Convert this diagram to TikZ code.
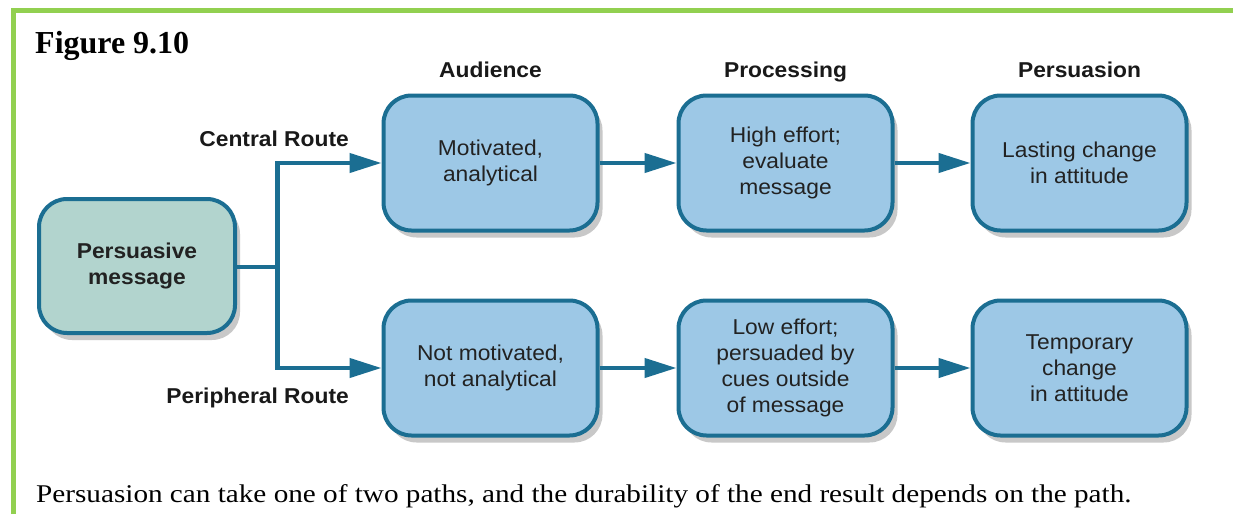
\documentclass[tikz,border=0pt]{standalone}
\usepackage{fontspec}
\setmainfont{Liberation Serif}
\newfontfamily\arialf[FakeStretch=1.06]{Liberation Sans}
\newfontfamily\capf[FakeStretch=1.145]{Liberation Serif}
\usetikzlibrary{arrows.meta,shadows,calc}
\definecolor{frameg}{HTML}{92D050}
\definecolor{edgeb}{HTML}{1B6E92}
\definecolor{fillb}{HTML}{9DC8E6}
\definecolor{fillg}{HTML}{B2D4CE}
\definecolor{txt}{HTML}{222222}
\tikzset{
  box/.style={draw=edgeb, line width=4pt, fill=fillb, rounded corners=28pt,
    minimum width=214pt, minimum height=135pt, align=center, text=txt,
    font=\arialf\fontsize{21.5}{26}\selectfont, inner sep=0pt,
    drop shadow={shadow xshift=5pt, shadow yshift=-7pt, opacity=0.3, fill=black!70}},
  srcbox/.style={box, fill=fillg, minimum width=196pt, minimum height=134pt,
    font=\arialf\bfseries\fontsize{21.5}{26}\selectfont},
  hdr/.style={font=\arialf\bfseries\fontsize{21.5}{26}\selectfont, text=black!90, inner sep=0pt},
  conn/.style={draw=edgeb, line width=4.3pt},
  arr/.style={conn, -{Triangle[length=32pt,width=19pt]}},
}
\begin{document}
\begin{tikzpicture}[x=1pt,y=-1pt]
\useasboundingbox (0,0) rectangle (1233,514);
\fill[white] (0,0) rectangle (1233,514);
\draw[frameg, line width=5pt] (13.5,514) -- (13.5,10) -- (1233,10);

\node[anchor=base west, inner sep=0pt, font=\bfseries\fontsize{32}{36}\selectfont] (fig) at (35,53) {Figure 9.10};

\node[srcbox] (msg) at (137,266) {Persuasive\\message};

\node[box] (aud1) at (490.5,163) {Motivated,\\analytical};
\node[box] (pro1) at (785.5,163) {High effort;\\evaluate\\message};
\node[box] (per1) at (1079.5,163) {Lasting change\\in attitude};

\node[box] (aud2) at (490.5,368) {Not motivated,\\not analytical};
\node[box] (pro2) at (785.5,368) {Low effort;\\persuaded by\\cues outside\\of message};
\node[box] (per2) at (1079.5,368) {Temporary\\change\\in attitude};

\node[hdr, anchor=base] (h1) at (490.5,77) {Audience};
\node[hdr, anchor=base] (h2) at (785.5,77) {Processing};
\node[hdr, anchor=base] (h3) at (1079.5,77) {Persuasion};

\node[hdr, anchor=base east] (cr) at (349,146) {Central Route};
\node[hdr, anchor=base east] (pr) at (349,403) {Peripheral Route};

\coordinate (split) at (277.5,267);
\draw[conn] (msg.east |- split) -- (split);
\draw[arr] (split) |- (aud1.west);
\draw[arr] (split) |- (aud2.west);
\draw[arr] (aud1) -- (pro1);
\draw[arr] (pro1) -- (per1);
\draw[arr] (aud2) -- (pro2);
\draw[arr] (pro2) -- (per2);

\node[anchor=base west, inner sep=0pt, font=\capf\fontsize{25.5}{30}\selectfont] (cap) at (36,502) {Persuasion can take one of two paths, and the durability of the end result depends on the path.};
\end{tikzpicture}
\end{document}
